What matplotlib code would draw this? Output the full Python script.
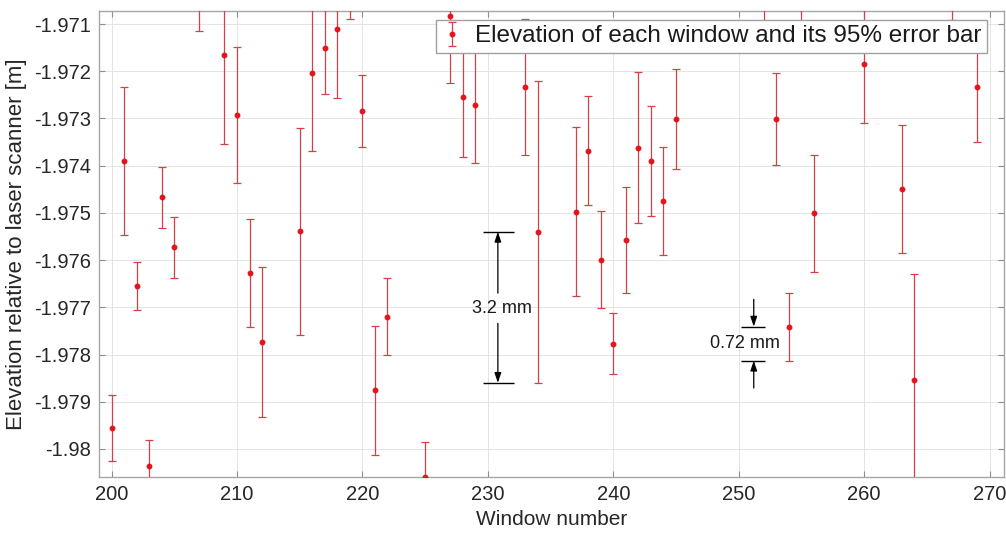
import matplotlib
matplotlib.use("Agg")
import matplotlib.pyplot as plt

# Window numbers, mean elevations [m] and 95% half-widths [m]
windows = [200, 201, 202, 203, 204, 205, 207, 209, 210, 211, 212, 215, 216, 217,
           218, 219, 220, 221, 222, 225, 227, 228, 229, 233, 234, 237, 238, 239,
           240, 241, 242, 243, 244, 245, 252, 253, 254, 255, 256, 260, 263, 264,
           267, 269]
elevation = [-1.97955, -1.97390, -1.97655, -1.98036, -1.97467, -1.97573, -1.97045,
             -1.97165, -1.97293, -1.97627, -1.97773, -1.97539, -1.97204, -1.97151,
             -1.97111, -1.97040, -1.97284, -1.97876, -1.97720, -1.98059, -1.97082,
             -1.97255, -1.97272, -1.97234, -1.97540, -1.97498, -1.97368, -1.97599,
             -1.97777, -1.97558, -1.97362, -1.97390, -1.97475, -1.97301, -1.97000,
             -1.97301, -1.97741, -1.97000, -1.97501, -1.97185, -1.97450, -1.97854,
             -1.97020, -1.97233]
error95 = [0.00070, 0.00157, 0.00050, 0.00056, 0.00065, 0.00065, 0.00069,
           0.00190, 0.00144, 0.00115, 0.00159, 0.00219, 0.00165, 0.00097,
           0.00145, 0.00049, 0.00077, 0.00137, 0.00082, 0.00074, 0.00142,
           0.00127, 0.00123, 0.00144, 0.00320, 0.00179, 0.00116, 0.00103,
           0.00064, 0.00112, 0.00160, 0.00116, 0.00115, 0.00106, 0.00120,
           0.00098, 0.00072, 0.00110, 0.00124, 0.00125, 0.00136, 0.00224,
           0.00072, 0.00116]

xticks = [200, 210, 220, 230, 240, 250, 260, 270]
yticks = [-1.980, -1.979, -1.978, -1.977, -1.976, -1.975, -1.974, -1.973, -1.972, -1.971]
ytick_labels = ["-1.98", "-1.979", "-1.978", "-1.977", "-1.976", "-1.975",
                "-1.974", "-1.973", "-1.972", "-1.971"]

plt.rcParams["font.family"] = ["Liberation Sans", "DejaVu Sans"]
text_col = "#262626"

fig = plt.figure(figsize=(10.06, 5.35), dpi=100)
ax = fig.add_axes([0.0984, 0.109, 0.8996, 0.8704])

eb = ax.errorbar(windows, elevation, yerr=error95, fmt="o", color="#e3141c",
                 markersize=3.2, ecolor="#d2414a", elinewidth=0.9, capsize=3.2,
                 capthick=0.9, label="Elevation of each window and its 95% error bar",
                 zorder=3)
for cap in eb[1]:
    cap.set_color("#7d4a4a")

ax.set_xlim(199.0, 271.15)
ax.set_ylim(-1.980587, -1.970725)
ax.set_xticks(xticks)
ax.set_yticks(yticks)
ax.set_yticklabels(ytick_labels)
ax.grid(True, color="#e4e4e4", linewidth=0.7)
ax.set_axisbelow(True)
ax.tick_params(direction="in", length=4, width=0.8, color="#8c8c8c",
               top=True, right=True, labelsize=14.5, labelcolor=text_col, pad=6)
for s in ax.spines.values():
    s.set_color("#a6a6a6")
    s.set_linewidth(1.0)

ax.set_xlabel("Window number", fontsize=15, color=text_col, labelpad=4)
ax.set_ylabel("Elevation relative to laser scanner [m]", fontsize=16,
              color=text_col, labelpad=5)

leg = ax.legend(loc="upper right", bbox_to_anchor=(0.9812, 0.9807),
                borderaxespad=0, fontsize=17.5, frameon=True, fancybox=False,
                framealpha=1, edgecolor="#a0a0a0", borderpad=0.22,
                handlelength=0.9, handletextpad=0.5)
leg.get_frame().set_linewidth(1.0)
for t in leg.get_texts():
    t.set_color("#1a1a1a")


def span_annotation(x_lo, x_hi, x_arrow, y_hi, y_lo, text, text_x, text_y,
                    inner, outside):
    """Two reference lines with arrows marking the distance between them."""
    ax.hlines([y_hi, y_lo], x_lo, x_hi, colors="black", linewidth=1.0, zorder=4)
    props = dict(arrowstyle="-|>,head_length=0.6,head_width=0.2",
                 color="black", linewidth=0.9, shrinkA=0, shrinkB=0)
    if inner:
        ax.annotate("", xy=(x_arrow, y_hi), xytext=(x_arrow, text_y + 0.00032),
                    arrowprops=props)
        ax.annotate("", xy=(x_arrow, y_lo), xytext=(x_arrow, text_y - 0.00032),
                    arrowprops=props)
    else:
        ax.annotate("", xy=(x_arrow, y_hi), xytext=(x_arrow, y_hi + outside),
                    arrowprops=props)
        ax.annotate("", xy=(x_arrow, y_lo), xytext=(x_arrow, y_lo - outside),
                    arrowprops=props)
    ax.text(text_x, text_y, text, ha="center", va="center", fontsize=13,
            color="#1a1a1a", zorder=5)


i = windows.index(234)
span_annotation(229.65, 232.1, 230.8, elevation[i], elevation[i] - error95[i],
                "3.2 mm", 231.1, -1.97702, True, 0)

j = windows.index(254)
span_annotation(250.2, 252.1, 251.2, elevation[j], elevation[j] - error95[j],
                "0.72 mm", 250.5, -1.97776, False, 0.00058)

fig.savefig("out.png", dpi=100)
